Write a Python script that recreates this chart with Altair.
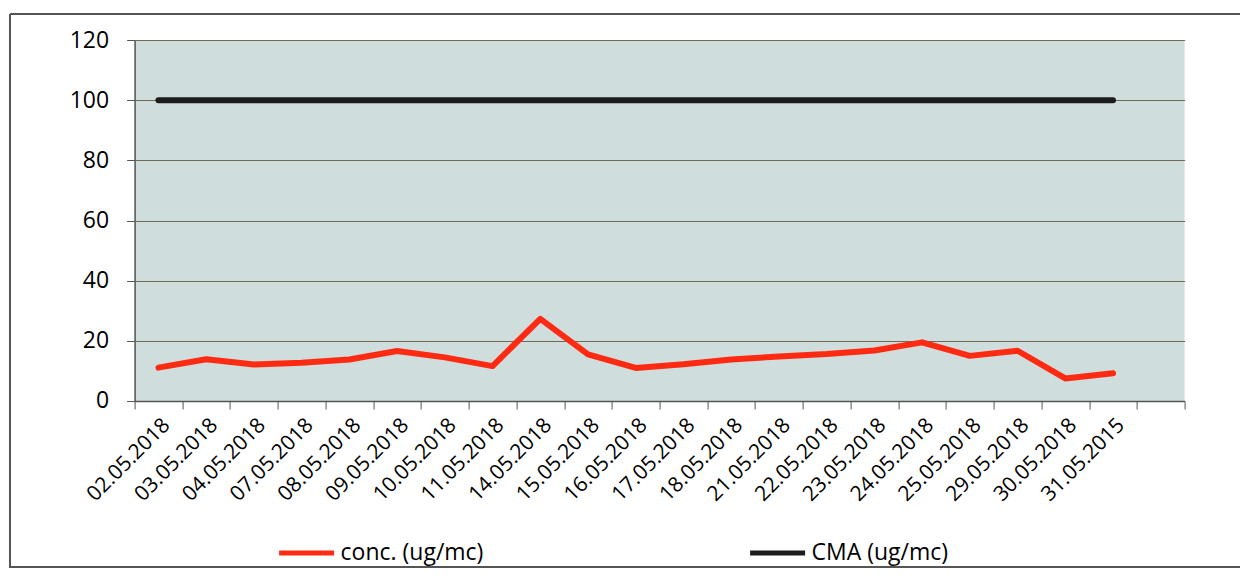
import altair as alt
import pandas as pd

dates = ["02.05.2018", "03.05.2018", "04.05.2018", "07.05.2018", "08.05.2018",
         "09.05.2018", "10.05.2018", "11.05.2018", "14.05.2018", "15.05.2018",
         "16.05.2018", "17.05.2018", "18.05.2018", "21.05.2018", "22.05.2018",
         "23.05.2018", "24.05.2018", "25.05.2018", "29.05.2018", "30.05.2018",
         "31.05.2015"]
conc = [11.1, 13.9, 12.1, 12.7, 13.8, 16.6, 14.5, 11.6, 27.3, 15.5, 11.0,
        12.2, 13.8, 14.8, 15.6, 16.8, 19.5, 15.0, 16.7, 7.5, 9.2]
cma = [100, 100, 100, 100, 100, 100, 100, 100, 100, 100, 100,
       100, 100, 100, 100, 100, 100, 100, 100, 100, 100]
series_names = ["conc. (ug/mc)", "CMA (ug/mc)"]
series_colors = ["#ff2a12", "#1c1c1c"]
x_domain = dates + [" "]
y_ticks = [0, 20, 40, 60, 80, 100, 120]

rows = []
for d, v in zip(dates, conc):
    rows.append({"date": d, "value": v, "series": series_names[0]})
for d, v in zip(dates, cma):
    rows.append({"date": d, "value": v, "series": series_names[1]})
df = pd.DataFrame(rows)

FONT = "Open Sans"

lines = alt.Chart(df).mark_line(strokeWidth=6, strokeCap="round", strokeJoin="round").encode(
    x=alt.X("date:N", sort=x_domain,
            scale=alt.Scale(type="band", domain=x_domain, paddingInner=0, paddingOuter=0),
            bandPosition=0.5,
            axis=alt.Axis(title=None, labelAngle=-45, tickBand="extent", tickSize=8,
                          labelFont=FONT, labelFontSize=21, labelColor="#000000",
                          domainColor="#555555", tickColor="#555555", grid=False,
                          labelPadding=5, labelOverlap=False, domainWidth=1.5)),
    y=alt.Y("value:Q", scale=alt.Scale(domain=[0, 120]),
            axis=alt.Axis(title=None, values=y_ticks, tickSize=8, labelPadding=18,
                          labelFont=FONT, labelFontSize=23, labelColor="#000000",
                          domainColor="#555555", tickColor="#555555", domainWidth=1.5,
                          gridColor="#6e6a55", gridWidth=1.2)),
    color=alt.Color("series:N", sort=series_names,
                    scale=alt.Scale(domain=series_names, range=series_colors),
                    legend=alt.Legend(title=None, orient="none", legendX=142, legendY=483,
                                      direction="horizontal", symbolType="stroke",
                                      symbolSize=3025, symbolStrokeWidth=5,
                                      labelFont=FONT, labelFontSize=23, labelColor="#000000",
                                      labelOffset=4, columnPadding=256, padding=0,
                                      labelLimit=400)),
)

frame_src = pd.DataFrame({"k": [0]})
frame_top = alt.Chart(frame_src).mark_rule(stroke="#555555", strokeWidth=2).encode(
    x=alt.value(-124.6), x2=alt.value(1108), y=alt.value(-26))
frame_left = alt.Chart(frame_src).mark_rule(stroke="#555555", strokeWidth=2).encode(
    x=alt.value(-124.6), y=alt.value(-26), y2=alt.value(528))
frame_bottom = alt.Chart(frame_src).mark_rule(stroke="#555555", strokeWidth=2).encode(
    x=alt.value(-124.6), x2=alt.value(1108), y=alt.value(527))

chart = alt.layer(frame_top, frame_left, frame_bottom, lines).properties(
    width=1050, height=361,
    padding={"left": 126.6, "top": 32, "right": 55, "bottom": 168},
    autosize=alt.AutoSizeParams(type="none"),
).configure_view(fill="#d0dddd", stroke=None)

chart.save("out.html", embed_options={"renderer": "svg", "actions": False})
